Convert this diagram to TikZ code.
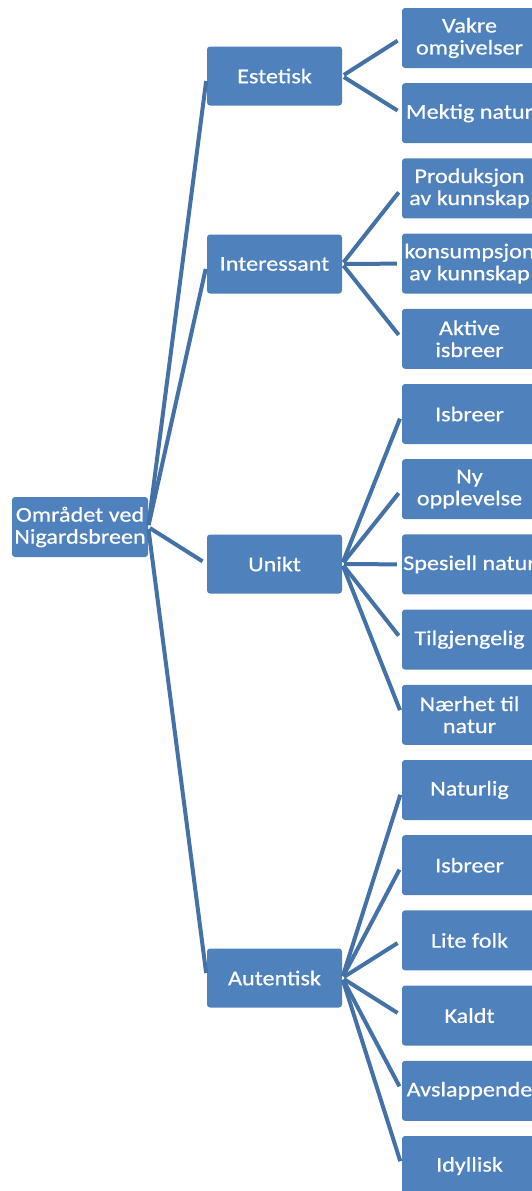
\documentclass[tikz,border=0pt]{standalone}
\usepackage{fontspec}
\setmainfont{Carlito}[FakeStretch=1.15,FakeBold=0.6]
\begin{document}
\begin{tikzpicture}[x=1pt,y=-1pt,
  box/.style={fill=boxblue, rounded corners=3pt, text=white, align=center,
    inner sep=0pt, minimum height=59pt, minimum width=135pt,
    font=\fontsize{21}{22}\selectfont},
  link/.style={draw=linkblue, line width=4pt, shorten >=5pt, shorten <=2pt}]
\definecolor{boxblue}{HTML}{4F81BD}
\definecolor{linkblue}{HTML}{4472A8}
\useasboundingbox (0,0) rectangle (531,1191);
% root
\node[box, minimum width=136pt, minimum height=60pt] (root) at (80,527) {Området ved\\Nigardsbreen};
% first level
\node[box] (est) at (274.5,76) {Estetisk};
\node[box] (int) at (274.5,264) {Interessant};
\node[box] (uni) at (274.5,564) {Unikt};
\node[box] (aut) at (274.5,978) {Autentisk};
% second level
\node[box, minimum height=60pt] (a1) at (469.5,38.0) {Vakre\\omgivelser};
\node[box, minimum height=60pt] (a2) at (469.5,113.2) {Mektig natur};
\node[box, minimum height=60pt] (b1) at (469.5,188.4) {Produksjon\\av kunnskap};
\node[box, minimum height=60pt] (b2) at (469.5,263.6) {konsumpsjon\\av kunnskap};
\node[box, minimum height=60pt] (b3) at (469.5,338.8) {Aktive\\isbreer};
\node[box, minimum height=60pt] (c1) at (469.5,414.0) {Isbreer};
\node[box, minimum height=60pt] (c2) at (469.5,489.2) {Ny\\opplevelse};
\node[box, minimum height=60pt] (c3) at (469.5,564.4) {Spesiell natur};
\node[box, minimum height=60pt] (c4) at (469.5,639.6) {Tilgjengelig};
\node[box, minimum height=60pt] (c5) at (469.5,714.8) {Nærhet til\\natur};
\node[box, minimum height=60pt] (d1) at (469.5,790.0) {Naturlig};
\node[box, minimum height=60pt] (d2) at (469.5,865.2) {Isbreer};
\node[box, minimum height=60pt] (d3) at (469.5,940.4) {Lite folk};
\node[box, minimum height=60pt] (d4) at (469.5,1015.6) {Kaldt};
\node[box, minimum height=60pt] (d5) at (469.5,1090.8) {Avslappende};
\node[box, minimum height=60pt] (d6) at (469.5,1166.0) {Idyllisk};
% connectors
\foreach \t in {est,int,uni,aut} \draw[link] (root.east) -- (\t.west);
\foreach \t in {a1,a2} \draw[link] (est.east) -- (\t.west);
\foreach \t in {b1,b2,b3} \draw[link] (int.east) -- (\t.west);
\foreach \t in {c1,c2,c3,c4,c5} \draw[link] (uni.east) -- (\t.west);
\foreach \t in {d1,d2,d3,d4,d5,d6} \draw[link] (aut.east) -- (\t.west);
\end{tikzpicture}
\end{document}
